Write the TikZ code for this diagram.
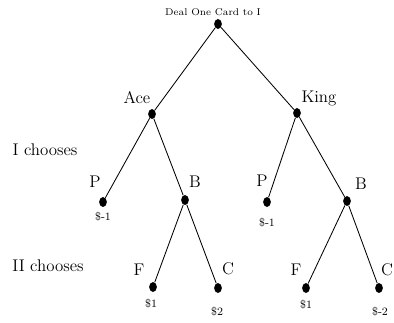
\documentclass[tikz,border=0pt]{standalone}
\usepackage{tikz}
\usetikzlibrary{shapes.geometric}

\tikzset{
  dot/.style={ellipse, fill=black, inner sep=0pt, minimum width=5.5pt, minimum height=7pt},
  lbl/.style={font=\large, inner sep=0pt},
  pay/.style={font=\footnotesize, inner sep=0pt},
  branch/.style={black, line width=0.6pt}
}

\begin{document}
\begin{tikzpicture}[x=0.025cm, y=-0.025cm]
\useasboundingbox (0,0) rectangle (394,322);

% Decision points (positions in pixels of the original)
\node[dot] (deal) at (218,24) {};
\node[dot] (ace)  at (152,114) {};
\node[dot] (king) at (297,113) {};
\node[dot] (aceP) at (103,202) {};
\node[dot] (aceB) at (185,200) {};
\node[dot] (kingP) at (267,202) {};
\node[dot] (kingB) at (347,201) {};
\node[dot] (aceF) at (153,287) {};
\node[dot] (aceC) at (218,288) {};
\node[dot] (kingF) at (306,288) {};
\node[dot] (kingC) at (379,288) {};

% Branches
\draw[branch] (deal) -- (ace);
\draw[branch] (deal) -- (king);
\draw[branch] (ace) -- (aceP);
\draw[branch] (ace) -- (aceB);
\draw[branch] (king) -- (kingP);
\draw[branch] (king) -- (kingB);
\draw[branch] (aceB) -- (aceF);
\draw[branch] (aceB) -- (aceC);
\draw[branch] (kingB) -- (kingF);
\draw[branch] (kingB) -- (kingC);

% Move labels
\node[font=\scriptsize] (dealLbl) at (213,12) {Deal One Card to I};
\node[lbl] (aceLbl) at (137,98) {Ace};
\node[lbl] (kingLbl) at (319,98) {King};
\node[lbl] (acePLbl) at (95,182) {P};
\node[lbl] (aceBLbl) at (195,182) {B};
\node[lbl] (kingPLbl) at (262,181) {P};
\node[lbl] (kingBLbl) at (361,184) {B};
\node[lbl] (aceFLbl) at (139,270) {F};
\node[lbl] (aceCLbl) at (228,269) {C};
\node[lbl] (kingFLbl) at (296,270) {F};
\node[lbl] (kingCLbl) at (387,270) {C};

% Row labels
\node[lbl] (row1) at (45,150) {I chooses};
\node[lbl] (row2) at (48,266) {II chooses};

% Payoffs
\node[pay] (payAP) at (103,217) {\$-1};
\node[pay] (payKP) at (267,223) {\$-1};
\node[pay] (payAF) at (151,304) {\$1};
\node[pay] (payAC) at (217,312) {\$2};
\node[pay] (payKF) at (306,305) {\$1};
\node[pay] (payKC) at (380,312) {\$-2};
\end{tikzpicture}
\end{document}
